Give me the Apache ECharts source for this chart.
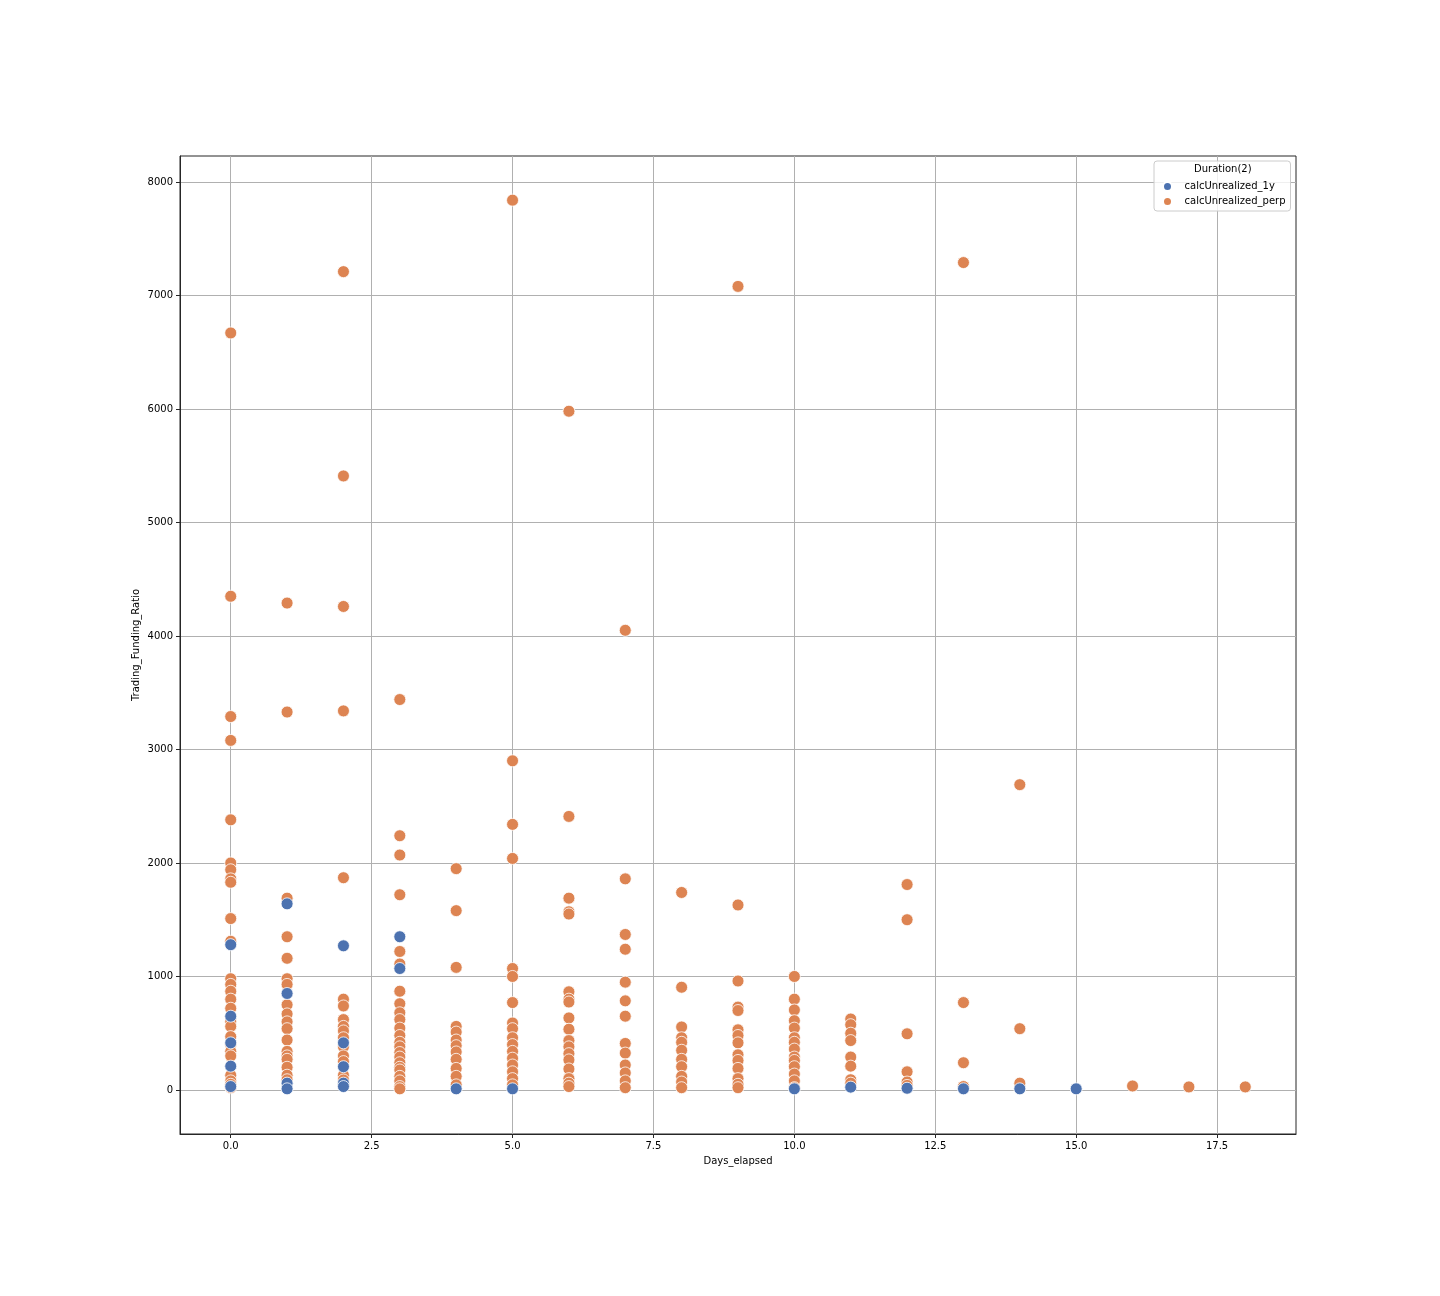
<!DOCTYPE html>
<html>
<head>
<meta charset="utf-8">
<script src="https://cdn.jsdelivr.net/npm/echarts@6/dist/echarts.min.js"></script>
<style>
html,body{margin:0;padding:0;background:#fff;}
#chart{width:1440px;height:1296px;}
</style>
</head>
<body>
<div id="chart"></div>
<script>
// ---- data ----
const days = [0,1,2,3,4,5,6,7,8,9,10,11,12,13,14,15,16,17,18];
const seriesNames = ['calcUnrealized_1y','calcUnrealized_perp'];
const legendTitle = 'Duration(2)';
const xTicks = [0,2.5,5,7.5,10,12.5,15,17.5];
const yTicks = [0,1000,2000,3000,4000,5000,6000,7000,8000];

// Trading_Funding_Ratio values per day, calcUnrealized_perp
const perpByDay = [
  [6670,4350,3290,3080,2380,2000,1940,1860,1830,1510,1310,980,930,870,800,720,600,560,470,400,340,300,130,80,50,20],
  [4290,3330,1690,1350,1160,980,930,750,670,600,540,440,340,300,270,200,130,90],
  [7210,5410,4260,3340,1870,800,740,620,560,520,460,380,300,250,130,88,40],
  [3440,2240,2070,1720,1220,1110,870,760,680,620,545,480,420,380,330,290,240,200,176,120,80,30,10],
  [1950,1580,1080,560,510,440,390,335,270,190,120,45],
  [7840,2900,2340,2040,1070,1000,770,590,540,460,400,340,280,220,160,100,45],
  [5980,2410,1690,1570,1550,865,800,775,635,535,435,380,320,265,185,100,60,30],
  [4050,1860,1370,1240,950,785,650,410,325,220,150,80,20],
  [1740,905,555,460,420,350,270,205,120,70,20],
  [7080,1630,960,730,700,530,480,415,310,260,190,100,50,20],
  [1000,800,705,610,545,460,420,360,290,260,205,140,80,20],
  [625,575,500,435,290,210,90,60],
  [1810,1500,495,160,70,40],
  [7290,770,240,30],
  [2690,540,60],
  [],
  [35],
  [27],
  [27]
];
// calcUnrealized_1y
const oneYByDay = [
  [1280,650,415,210,30],
  [1640,850,60,10],
  [1270,415,205,60,30],
  [1350,1070],
  [10],
  [10],
  [],[],[],[],
  [10],
  [25],
  [15],
  [10],
  [10],
  [10],
  [],[],[]
];

function toPoints(byDay){
  const pts=[];
  byDay.forEach((vals,i)=>vals.forEach(v=>pts.push([days[i],v])));
  return pts;
}

const blue='#4C72B0', orange='#DD8452';
const chart = echarts.init(document.getElementById('chart'), null, {renderer:'canvas'});
const font = 'DejaVu Sans';
const option = {
  backgroundColor:'#fff',
  animation:false,
  textStyle:{fontFamily:font},
  grid:{left:180,right:144,top:156,bottom:162,show:true,borderColor:'#262626',borderWidth:1,backgroundColor:'transparent'},
  xAxis:{
    type:'value',min:-0.9,max:18.9,
    name:'Days_elapsed',nameLocation:'middle',nameGap:22,nameMoveOverlap:false,
    nameTextStyle:{fontSize:10,color:'#000',fontFamily:font},
    axisLine:{show:true,onZero:false,lineStyle:{color:'#262626',width:1}},
    axisTick:{show:true,length:4,inside:false,customValues:xTicks,lineStyle:{color:'#262626'}},
    axisLabel:{fontSize:10,color:'#000',margin:7,customValues:xTicks,fontFamily:font,
      formatter:v=>Number(v).toFixed(1)},
    splitLine:{show:true,lineStyle:{color:'#b0b0b0',width:1}}
  },
  yAxis:{
    type:'value',min:-388,max:8229,
    name:'Trading_Funding_Ratio',nameLocation:'middle',nameGap:39,nameRotate:90,nameMoveOverlap:false,
    nameTextStyle:{fontSize:10,color:'#000',fontFamily:font},
    axisLine:{show:true,onZero:false,lineStyle:{color:'#262626',width:1}},
    axisTick:{show:true,length:4,customValues:yTicks,lineStyle:{color:'#262626'}},
    axisLabel:{fontSize:10,color:'#000',margin:7,customValues:yTicks,fontFamily:font,
      formatter:v=>String(Math.round(v))},
    splitLine:{show:true,lineStyle:{color:'#b0b0b0',width:1}}
  },
  legend:{
    data:seriesNames,
    orient:'vertical',left:1154,top:161,
    itemWidth:24,itemHeight:9,itemGap:4,
    padding:[20,5,4,8],
    backgroundColor:'rgba(255,255,255,0.8)',
    borderColor:'#cccccc',borderWidth:1,borderRadius:3,
    textStyle:{fontSize:10,color:'#000',fontFamily:font},
    icon:'circle'
  },
  graphic:[{
    type:'text',left:1194,top:164,z:100,
    style:{text:legendTitle,fontSize:10,fill:'#000',fontFamily:font}
  }],
  series:[
    {name:seriesNames[1],type:'scatter',data:toPoints(perpByDay),symbolSize:12,
     itemStyle:{color:orange,borderColor:'#fff',borderWidth:0.8,opacity:1},z:2},
    {name:seriesNames[0],type:'scatter',data:toPoints(oneYByDay),symbolSize:12,
     itemStyle:{color:blue,borderColor:'#fff',borderWidth:0.8,opacity:1},z:3}
  ]
};
chart.setOption(option);
</script>
</body>
</html>
